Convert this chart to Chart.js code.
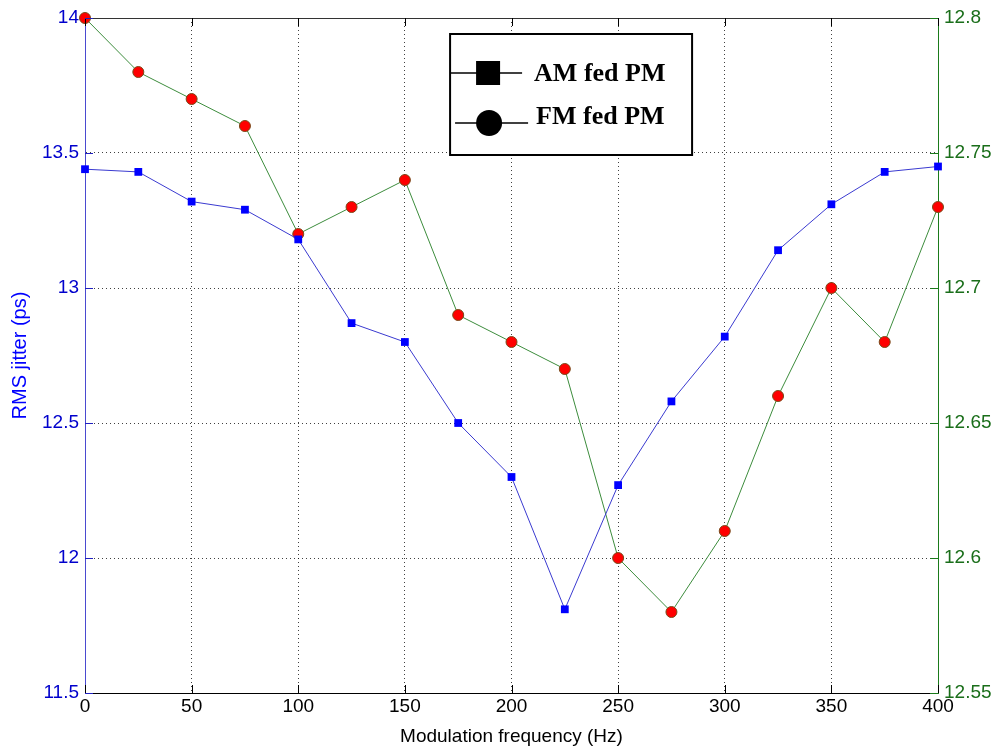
<!DOCTYPE html>
<html>
<head>
  <title>RMS jitter vs modulation frequency</title>
  <script src="https://cdn.jsdelivr.net/npm/chart.js"></script>
  <style>
    html, body { margin: 0; padding: 0; background: #fff; }
    #wrap { width: 1007px; height: 748px; }
  </style>
</head>
<body>
<div id="wrap"><canvas id="jitterChart" width="1007" height="748"></canvas></div>

<script>
  // modulation frequency (Hz)
  const freqs = [0, 25, 50, 75, 100, 125, 150, 175, 200, 225, 250, 275, 300, 325, 350, 375, 400];
  // left axis, RMS jitter (ps)
  const amFedPM = [13.44, 13.43, 13.32, 13.29, 13.18, 12.87, 12.80, 12.50, 12.30, 11.81, 12.27, 12.58, 12.82, 13.14, 13.31, 13.43, 13.45];
  // right axis
  const fmFedPM = [12.80, 12.78, 12.77, 12.76, 12.72, 12.73, 12.74, 12.69, 12.68, 12.67, 12.60, 12.58, 12.61, 12.66, 12.70, 12.68, 12.73];
  const seriesNames = ['AM fed PM', 'FM fed PM'];

  const toPoints = vals => vals.map((v, i) => ({ x: freqs[i], y: v }));

  const gridDots = { color: 'rgba(0,0,0,0.75)', lineWidth: 1, drawTicks: false };
  const axisFont = { family: 'Arial, "Liberation Sans", sans-serif', size: 19 };

  // frame line on top + small inner ticks, matlab style
  const framePlugin = {
    id: 'frame',
    afterDraw(chart) {
      const { ctx, chartArea: a, scales } = chart;
      ctx.save();
      ctx.strokeStyle = '#333';
      ctx.lineWidth = 1;
      ctx.beginPath();
      ctx.moveTo(a.left, a.top + 0.5);
      ctx.lineTo(a.right, a.top + 0.5);
      ctx.stroke();

      scales.x.ticks.forEach(t => {
        const px = Math.round(scales.x.getPixelForValue(t.value)) + 0.5;
        ctx.strokeStyle = '#000';
        ctx.beginPath();
        ctx.moveTo(px, a.bottom); ctx.lineTo(px, a.bottom - 8);
        ctx.moveTo(px, a.top); ctx.lineTo(px, a.top + 8);
        ctx.stroke();
      });
      scales.y.ticks.forEach(t => {
        const py = Math.round(scales.y.getPixelForValue(t.value)) + 0.5;
        ctx.strokeStyle = '#2020c0';
        ctx.beginPath();
        ctx.moveTo(a.left, py); ctx.lineTo(a.left + 8, py);
        ctx.stroke();
      });
      scales.y1.ticks.forEach(t => {
        const py = Math.round(scales.y1.getPixelForValue(t.value)) + 0.5;
        ctx.strokeStyle = '#1a7a1a';
        ctx.beginPath();
        ctx.moveTo(a.right, py); ctx.lineTo(a.right - 8, py);
        ctx.stroke();
      });
      ctx.restore();
    }
  };

  // boxed legend with big black markers
  const legendBox = {
    id: 'legendBox',
    afterDraw(chart) {
      const { ctx, chartArea: a } = chart;
      const w = a.right - a.left;
      const x0 = a.left + w * 0.428, y0 = a.top + 16;
      const bw = 242, bh = 121;
      ctx.save();
      ctx.fillStyle = '#fff';
      ctx.fillRect(x0, y0, bw, bh);
      ctx.strokeStyle = '#000';
      ctx.lineWidth = 2;
      ctx.strokeRect(x0, y0, bw, bh);

      ctx.lineWidth = 1.5;
      ctx.font = 'bold 26px "Liberation Serif", "Times New Roman", serif';
      ctx.textBaseline = 'middle';
      ctx.fillStyle = '#000';
      const names = chart.data.datasets.map(d => d.label);

      // first entry: square
      let cy = y0 + 39;
      ctx.beginPath(); ctx.moveTo(x0, cy); ctx.lineTo(x0 + 72, cy); ctx.stroke();
      ctx.fillRect(x0 + 26, cy - 12, 24, 24);
      ctx.fillText(names[0], x0 + 84, cy + 1);

      // second entry: circle
      cy = y0 + 89;
      ctx.beginPath(); ctx.moveTo(x0 + 5, cy); ctx.lineTo(x0 + 78, cy); ctx.stroke();
      ctx.beginPath(); ctx.arc(x0 + 39, cy, 13, 0, Math.PI * 2); ctx.fill();
      ctx.fillText(names[1], x0 + 86, cy - 6);
      ctx.restore();
    }
  };

  const ctx = document.getElementById('jitterChart').getContext('2d');
  new Chart(ctx, {
    type: 'line',
    data: {
      datasets: [
        {
          label: seriesNames[0],
          data: toPoints(amFedPM),
          yAxisID: 'y',
          clip: false,
          borderColor: '#3a3ad0',
          borderWidth: 1,
          backgroundColor: '#0000ff',
          pointStyle: 'rect',
          pointRadius: 5.5,
          pointBorderWidth: 0,
          pointBorderColor: '#0000ff',
          pointBackgroundColor: '#0000ff',
          tension: 0
        },
        {
          label: seriesNames[1],
          data: toPoints(fmFedPM),
          yAxisID: 'y1',
          clip: false,
          borderColor: '#3c8c3c',
          borderWidth: 1,
          pointStyle: 'circle',
          pointRadius: 5.5,
          pointBorderWidth: 1,
          pointBorderColor: '#7a4a1a',
          pointBackgroundColor: '#ff0000',
          tension: 0
        }
      ]
    },
    options: {
      responsive: false,
      animation: false,
      layout: { padding: { top: 18, left: 0, right: 0, bottom: 0 } },
      plugins: { legend: { display: false }, tooltip: { enabled: false } },
      scales: {
        x: {
          type: 'linear',
          min: 0, max: 400,
          grid: gridDots,
          border: { color: '#000', width: 1, dash: [1, 3] },
          ticks: { stepSize: 50, color: '#000', padding: 2, font: axisFont },
          title: {
            display: true, text: 'Modulation frequency (Hz)', color: '#000',
            font: { family: 'Arial, "Liberation Sans", sans-serif', size: 19 },
            padding: { top: 0, bottom: 0 }
          },
          afterFit(s) { s.height = 55; }
        },
        y: {
          position: 'left',
          min: 11.5, max: 14,
          grid: gridDots,
          border: { color: '#4a4ad0', width: 1, dash: [1, 3] },
          ticks: {
            stepSize: 0.5, color: '#0000cc', padding: 6, font: axisFont,
            callback: v => Number(v.toFixed(2)).toString()
          },
          title: {
            display: true, text: 'RMS jitter (ps)', color: '#0000ff',
            font: { family: 'Arial, "Liberation Sans", sans-serif', size: 20 },
            padding: { top: 8, bottom: 0 }
          },
          afterFit(s) { s.width = 85; }
        },
        y1: {
          position: 'right',
          min: 12.55, max: 12.8,
          grid: { drawOnChartArea: false, drawTicks: false },
          border: { color: '#1a7a1a', width: 1 },
          ticks: {
            stepSize: 0.05, color: '#1a6e1a', padding: 6, font: axisFont,
            callback: v => Number(v.toFixed(2)).toString()
          },
          afterFit(s) { s.width = 69; }
        }
      }
    },
    plugins: [framePlugin, legendBox]
  });
</script>
</body>
</html>
